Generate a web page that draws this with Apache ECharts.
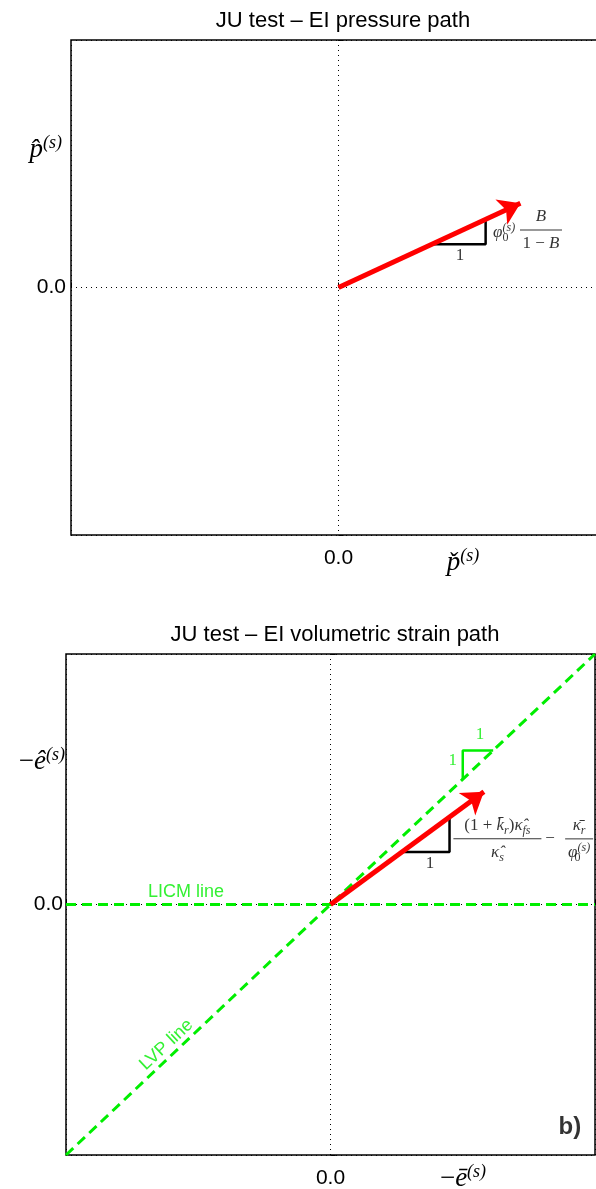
<!DOCTYPE html>
<html>
<head>
<meta charset="utf-8">
<script src="https://cdn.jsdelivr.net/npm/echarts@6/dist/echarts.min.js"></script>
<style>
html, body { margin: 0; padding: 0; background: #fff; }
#chart { width: 596px; height: 1189px; }
</style>
</head>
<body>
<div id="chart"></div>
<script>
// both panels run from -1 to 1 on each axis, only the origin is labelled
const axisMin = -1;
const axisMax = 1;
const tickValues = [0];
const tickLabels = ['0.0'];

// a) pressure path
const pressurePath = [[0, 0], [0.68, 0.34]];
const pressureSlope = [[0.35, 0.175], [0.55, 0.175], [0.55, 0.275]];

// b) volumetric strain path
const strainPath = [[0, 0], [0.58, 0.45]];
const strainSlope = [[0.27, 0.21], [0.45, 0.21], [0.45, 0.35]];
const licmLine = [[-1, 0], [1, 0]];
const lvpLine = [[-1, -1], [1, 1]];
const lvpSlope = [[0.5, 0.5], [0.5, 0.615], [0.615, 0.615]];

const mathFont = 'Liberation Serif';
const sansFont = 'Liberation Sans';
const green = '#00ee00';

const chart = echarts.init(document.getElementById('chart'));

const rich = {
  m: { fontFamily: mathFont, fontStyle: 'italic', fontSize: 27, lineHeight: 32, verticalAlign: 'middle', color: '#000' },
  r: { fontFamily: mathFont, fontSize: 27, lineHeight: 32, verticalAlign: 'middle', color: '#000' },
  sup: { fontFamily: mathFont, fontStyle: 'italic', fontSize: 18, verticalAlign: 'top', color: '#000' },
  f: { fontFamily: mathFont, fontStyle: 'italic', fontSize: 17, lineHeight: 22, verticalAlign: 'middle', color: '#000' },
  fu: { fontFamily: mathFont, fontSize: 17, lineHeight: 22, verticalAlign: 'middle', color: '#000' },
  fsub: { fontFamily: mathFont, fontStyle: 'italic', fontSize: 12, verticalAlign: 'bottom', color: '#000' },
  fsub0: { fontFamily: mathFont, fontSize: 12, verticalAlign: 'bottom', width: 0.1, color: '#000' },
  fsup: { fontFamily: mathFont, fontStyle: 'italic', fontSize: 12, verticalAlign: 'top', color: '#000' },
  barB: { width: 42, height: 1, fontSize: 2, lineHeight: 5, backgroundColor: '#000' },
  bar1: { width: 88, height: 1, fontSize: 2, lineHeight: 5, backgroundColor: '#000' },
  bar2: { width: 28, height: 1, fontSize: 2, lineHeight: 5, backgroundColor: '#000' }
};

function textMark(grid, point, text, label) {
  return {
    type: 'scatter',
    xAxisIndex: grid,
    yAxisIndex: grid,
    symbolSize: 0,
    silent: true,
    animation: false,
    z: 10,
    data: [point],
    label: Object.assign({
      show: true,
      position: 'inside',
      align: 'center',
      verticalAlign: 'middle',
      formatter: text,
      rich: rich,
      color: '#000',
      textBorderWidth: 0
    }, label || {})
  };
}

function arrow(grid, path) {
  return {
    type: 'lines',
    coordinateSystem: 'cartesian2d',
    xAxisIndex: grid,
    yAxisIndex: grid,
    silent: true,
    animation: false,
    z: 5,
    symbol: ['none', 'arrow'],
    symbolSize: 21,
    lineStyle: { color: '#ff0000', width: 5, opacity: 1, curveness: 0 },
    data: [{ coords: path }]
  };
}

function segment(grid, pts, color, width, type) {
  return {
    type: 'line',
    xAxisIndex: grid,
    yAxisIndex: grid,
    data: pts,
    symbol: 'none',
    silent: true,
    animation: false,
    lineStyle: { color: color, width: width, type: type || 'solid' }
  };
}

function axis(grid, name, nameStyle, nameGap, labelMargin) {
  return {
    gridIndex: grid,
    type: 'value',
    min: axisMin,
    max: axisMax,
    interval: 1,
    name: name,
    nameLocation: 'middle',
    nameRotate: 0,
    nameGap: nameGap,
    nameMoveOverlap: false,
    nameTextStyle: Object.assign({ rich: rich }, nameStyle),
    axisLine: { show: false },
    axisTick: { show: true, inside: true, length: 5, lineStyle: { color: '#000', width: 1 } },
    axisLabel: {
      margin: labelMargin,
      fontFamily: sansFont,
      fontSize: 21,
      color: '#000',
      formatter: v => {
        const i = tickValues.indexOf(v);
        return i >= 0 ? tickLabels[i] : '';
      }
    },
    splitLine: { show: true, lineStyle: { color: '#000', width: 1, type: [1, 4] } }
  };
}

chart.setOption({
  animation: false,
  title: [
    {
      text: 'JU test – EI pressure path',
      left: 338, top: 5, textAlign: 'center',
      textStyle: { fontFamily: sansFont, fontSize: 22, fontWeight: 'normal', color: '#000' }
    },
    {
      text: 'JU test – EI volumetric strain path',
      left: 330, top: 619, textAlign: 'center',
      textStyle: { fontFamily: sansFont, fontSize: 22, fontWeight: 'normal', color: '#000' }
    }
  ],
  grid: [
    { left: 71, top: 40, width: 535, height: 495, outerBoundsMode: 'none', containLabel: false,
      show: true, borderColor: '#000', borderWidth: 1.5 },
    { left: 66, top: 654, width: 529, height: 501, outerBoundsMode: 'none', containLabel: false,
      show: true, borderColor: '#000', borderWidth: 1.5 }
  ],
  xAxis: [
    axis(0, '{m|p̌}{sup|(s)}', { padding: [0, 0, 0, 249] }, 12, 13),
    axis(1, '{r|−}{m|ē}{sup|(s)}', { padding: [0, 0, 0, 265] }, 8, 13)
  ],
  yAxis: [
    axis(0, '{m|p̂}{sup|(s)}', { padding: [0, 0, 275, 0] }, 9, 5),
    axis(1, '{r|−}{m|ê}{sup|(s)}', { padding: [0, 0, 285, 0] }, 1, 3)
  ],
  series: [
    // a) pressure path
    arrow(0, pressurePath),
    segment(0, pressureSlope, '#000', 2.5),
    textMark(0, [0.454, 0.131], '{fu|1}'),
    textMark(0, [0.578, 0.222], '{f|φ}{fsub0|0}{fsup|(s)}', { align: 'left' }),
    textMark(0, [0.757, 0.232], '{f|B}\n{barB| }\n{fu|1 − }{f|B}'),

    // b) volumetric strain path
    segment(1, licmLine, green, 3, [10, 6]),
    segment(1, lvpLine, green, 3, [10, 6]),
    segment(1, lvpSlope, green, 2.5),
    arrow(1, strainPath),
    segment(1, strainSlope, '#000', 2.5),
    textMark(1, [0.376, 0.164], '{fu|1}'),
    textMark(1, [0.631, 0.262], '{fu|(1 + }{f|k̄}{fsub|r}{fu|)}{f|κ̂}{fsub|fs}\n{bar1| }\n{f|κ̂}{fsub|s}'),
    textMark(1, [0.83, 0.262], '{fu|−}'),
    textMark(1, [0.94, 0.262], '{f|κ̄}{fsub|r}\n{bar2| }\n{f|φ}{fsub0|0}{fsup|(s)}'),
    textMark(1, [0.462, 0.573], '1', { fontFamily: mathFont, fontSize: 17, color: green, rich: {} }),
    textMark(1, [0.565, 0.678], '1', { fontFamily: mathFont, fontSize: 17, color: green, rich: {} }),
    textMark(1, [-0.546, 0.05], 'LICM line', { fontFamily: sansFont, fontSize: 18, color: green, rich: {} }),
    textMark(1, [-0.62, -0.56], 'LVP line', { fontFamily: sansFont, fontSize: 18, color: green, rotate: 43, rich: {} }),
    textMark(1, [0.905, -0.89], 'b)', { fontFamily: sansFont, fontSize: 24, fontWeight: 'bold', color: '#000', rich: {} })
  ]
});
</script>
</body>
</html>
